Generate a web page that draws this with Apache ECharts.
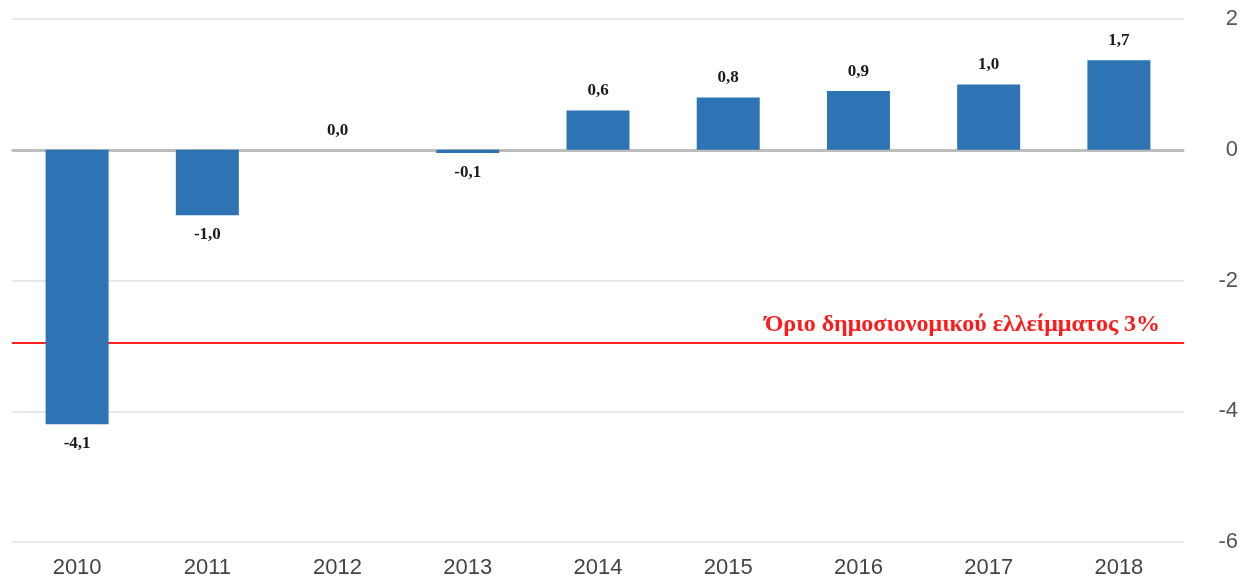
<!DOCTYPE html>
<html>
<head>
<meta charset="utf-8">
<script src="https://cdn.jsdelivr.net/npm/echarts@6/dist/echarts.min.js"></script>
<style>
  html, body { margin: 0; padding: 0; background: #fff; }
  #main { width: 1242px; height: 580px; }
</style>
</head>
<body>
<div id="main"></div>
<script>
var years = ['2010', '2011', '2012', '2013', '2014', '2015', '2016', '2017', '2018'];
// bar heights as drawn
var balance = [-4.2, -1.0, 0, -0.05, 0.6, 0.8, 0.9, 1.0, 1.37];
// data labels as printed on the chart
var labels = ['-4,1', '-1,0', '0,0', '-0,1', '0,6', '0,8', '0,9', '1,0', '1,7'];
var limitValue = -2.95;
var limitText = 'Όριο δημοσιονομικού ελλείμματος 3%';

var myChart = echarts.init(document.getElementById('main'));
var option = {
  backgroundColor: '#fff',
  animation: false,
  grid: {
    left: 12,
    right: 58,
    top: 19,
    bottom: 38
  },
  xAxis: {
    type: 'category',
    data: years,
    axisLine: {
      lineStyle: { color: '#cccccc', width: 2 }
    },
    axisTick: {
      alignWithLabel: true,
      length: 7,
      lineStyle: { color: '#cccccc', width: 2 }
    },
    axisLabel: {
      color: '#444',
      fontSize: 22,
      fontFamily: 'Liberation Sans',
      margin: 15
    }
  },
  yAxis: {
    type: 'value',
    position: 'right',
    min: -6,
    max: 2,
    interval: 2,
    axisLine: { show: false },
    axisTick: { show: false },
    splitLine: {
      lineStyle: { color: '#e8e8e8', width: 2 }
    },
    axisLabel: {
      color: '#555',
      fontSize: 22,
      fontFamily: 'Liberation Sans',
      align: 'right',
      margin: 54,
      padding: [5, 0, 0, 0]
    }
  },
  series: [{
    type: 'bar',
    data: balance.map(function (v) {
      // negative bars get their label underneath
      return v < 0 ? { value: v, label: { position: 'bottom' } } : v;
    }),
    barWidth: 63,
    itemStyle: {
      color: '#2e74b5'
    },
    label: {
      show: true,
      formatter: function (p) { return labels[p.dataIndex]; },
      position: 'top',
      distance: 11,
      color: '#1a1a1a',
      fontSize: 17,
      fontWeight: 'bold',
      fontFamily: 'Liberation Serif'
    },
    markLine: {
      symbol: 'none',
      silent: true,
      z: 1,
      data: [
        {
          yAxis: 0,
          lineStyle: { color: '#bdbdbd', width: 3, type: 'solid' },
          label: { show: false }
        },
        {
          yAxis: limitValue,
          lineStyle: { color: '#ff2020', width: 2, type: 'solid' },
          label: {
            show: true,
            formatter: limitText,
            position: 'insideEndTop',
            distance: [24, 6],
            color: '#ff1a1a',
            fontSize: 24,
            fontWeight: 'bold',
            fontFamily: 'Liberation Serif'
          }
        }
      ]
    }
  }]
};
myChart.setOption(option);
</script>
</body>
</html>
